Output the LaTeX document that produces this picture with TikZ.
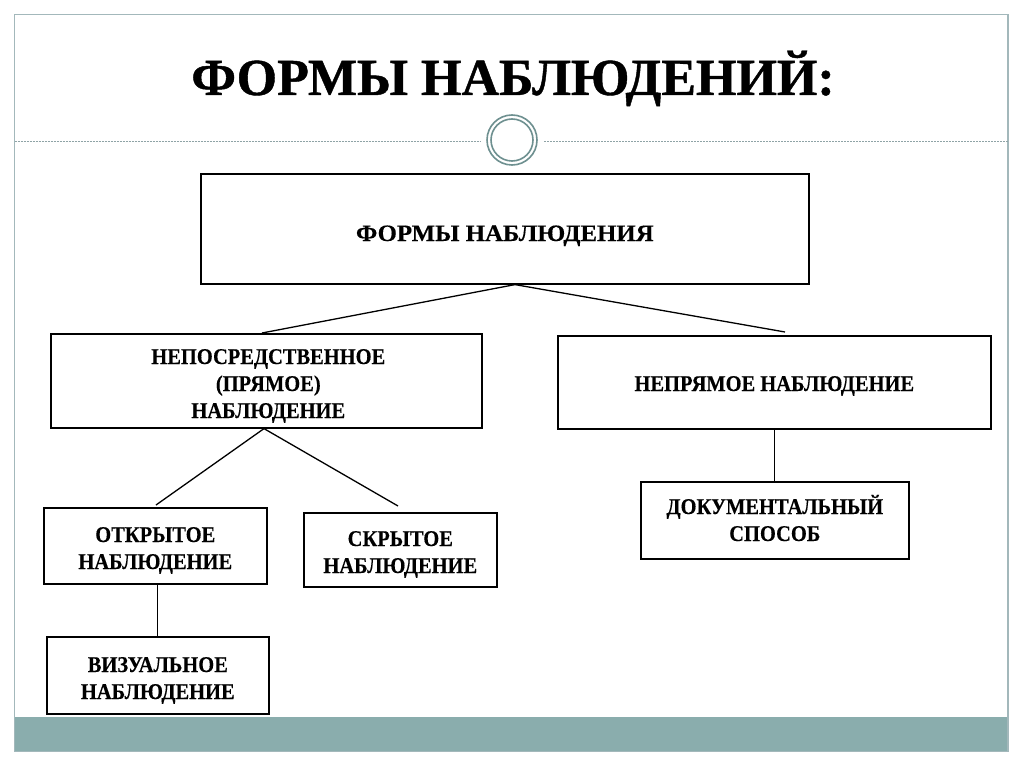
\documentclass[tikz,border=0pt]{standalone}
\usepackage{fontspec}
\setmainfont{Liberation Serif}
\newfontfamily\heavy[FakeBold=0.3]{Liberation Serif Bold}
\newfontfamily\titlefont[FakeBold=0.8]{Liberation Serif Bold}
\usetikzlibrary{calc}
\definecolor{framecol}{HTML}{A3B8BB}
\definecolor{barcol}{HTML}{8AADAD}
\definecolor{ringcol}{HTML}{6E9090}
\definecolor{dashcol}{HTML}{8FA3A6}
\setlength{\tabcolsep}{0pt}
\newcommand{\lines}[1]{\begin{tabular}[t]{c}#1\end{tabular}}
\tikzset{
  box/.style={draw=black, line width=1.6pt, inner sep=0pt, anchor=north west},
  lbl/.style={font=\heavy\fontsize{22.5}{27}\selectfont, xscale=0.91, inner sep=0pt, anchor=base, text=black},
  toplbl/.style={font=\heavy\fontsize{23.5}{27}\selectfont, xscale=1.057, inner sep=0pt, anchor=base, text=black},
  link/.style={draw=black, line width=1.3pt},
  ring/.style={circle, draw=ringcol, line width=1.6pt, inner sep=0pt},
}
\begin{document}
\begin{tikzpicture}[x=1pt,y=-1pt]
\useasboundingbox (0,0) rectangle (1024,767);
\fill[white] (0,0) rectangle (1024,767);
% frame
\fill[barcol] (14.5,716.5) rectangle (1008,751.5);
\draw[framecol, line width=1.3pt] (14.5,14.5) rectangle (1008,751.5);
% dashed line and ring
\draw[dashcol, dash pattern=on 2pt off 1pt, line width=0.7pt] (14.5,141.3) -- (480,141.3);
\draw[dashcol, dash pattern=on 2pt off 1pt, line width=0.7pt] (544,141.3) -- (1008,141.3);
\node[ring, minimum size=50pt] (ringout) at (512,140) {};
\node[ring, minimum size=42pt] (ringin) at (512,140) {};
% title
\node[font=\titlefont\fontsize{52}{55}\selectfont, xscale=1.0, anchor=base, inner sep=0pt] (title) at (513,95) {ФОРМЫ НАБЛЮДЕНИЙ:};
% boxes
\node[box, minimum width=608pt, minimum height=110pt] (top) at (200,173) {};
\node[toplbl] (toptext) at ($(top.north)+(0,68)$) {ФОРМЫ НАБЛЮДЕНИЯ};
\node[box, minimum width=431pt, minimum height=94pt] (lm) at (50,333) {};
\node[lbl] (lmtext) at ($(lm.north)+(2,31)$) {\lines{НЕПОСРЕДСТВЕННОЕ\\(ПРЯМОЕ)\\НАБЛЮДЕНИЕ}};
\node[box, minimum width=433pt, minimum height=93pt] (rm) at (557,335) {};
\node[lbl] (rmtext) at ($(rm.north)+(0,56)$) {НЕПРЯМОЕ НАБЛЮДЕНИЕ};
\node[box, minimum width=223pt, minimum height=76pt] (open) at (43,507) {};
\node[lbl] (opentext) at ($(open.north)+(0,35)$) {\lines{ОТКРЫТОЕ\\НАБЛЮДЕНИЕ}};
\node[box, minimum width=193pt, minimum height=74pt] (hid) at (303,512) {};
\node[lbl] (hidtext) at ($(hid.north)+(0,34)$) {\lines{СКРЫТОЕ\\НАБЛЮДЕНИЕ}};
\node[box, minimum width=268pt, minimum height=77pt] (doc) at (640,481) {};
\node[lbl] (doctext) at ($(doc.north)+(0,33)$) {\lines{ДОКУМЕНТАЛЬНЫЙ\\СПОСОБ}};
\node[box, minimum width=222pt, minimum height=77pt] (vis) at (46,636) {};
\node[lbl] (vistext) at ($(vis.north)+(0,36)$) {\lines{ВИЗУАЛЬНОЕ\\НАБЛЮДЕНИЕ}};
% connector points
\coordinate (topapex) at ($(top.south west)+(315,0)$);
\coordinate (lmtop) at ($(lm.north west)+(212,0)$);
\coordinate (rmtop) at ($(rm.north west)+(228,-3)$);
\coordinate (lmapex) at ($(lm.south west)+(214,0)$);
\coordinate (opentop) at ($(open.north west)+(113,-2)$);
\coordinate (hidtop) at ($(hid.north west)+(95,-6)$);
% connectors
\draw[link] (topapex) -- (lmtop);
\draw[link] (topapex) -- (rmtop);
\draw[link] (lmapex) -- (opentop);
\draw[link] (lmapex) -- (hidtop);
\draw[link] (rm.south -| doc.north) -- (doc.north);
\draw[link] (open.south -| vis.north) -- (vis.north);
\end{tikzpicture}
\end{document}
